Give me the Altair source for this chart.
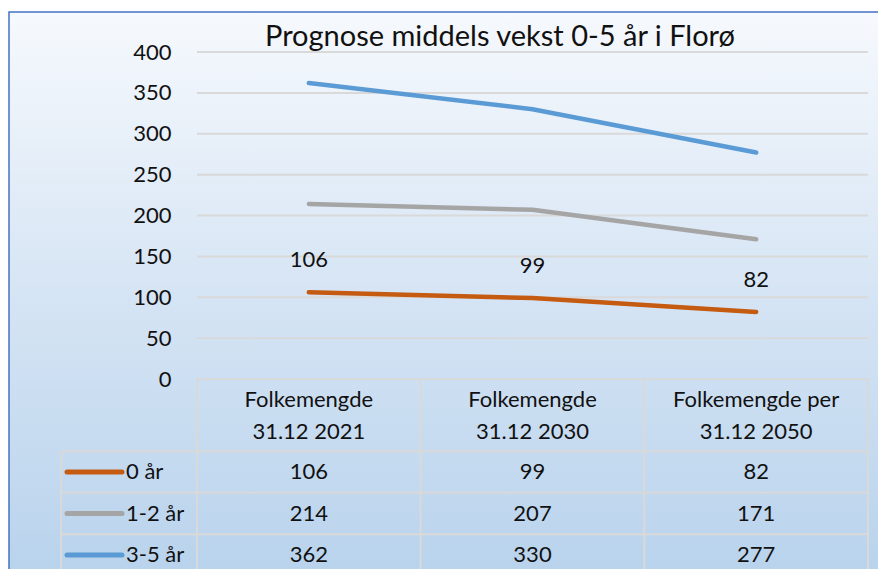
import altair as alt
import pandas as pd

# ---------------- data ----------------
categories = ["Folkemengde 31.12 2021", "Folkemengde 31.12 2030", "Folkemengde per 31.12 2050"]
header_labels = ["Folkemengde\n31.12 2021", "Folkemengde\n31.12 2030", "Folkemengde per\n31.12 2050"]
series_names = ["0 år", "1-2 år", "3-5 år"]
values_0 = [106, 99, 82]
values_1_2 = [214, 207, 171]
values_3_5 = [362, 330, 277]
series_colors = ["#c55a11", "#a5a5a5", "#5b9bd5"]
y_ticks = [0, 50, 100, 150, 200, 250, 300, 350, 400]
chart_title = "Prognose middels vekst 0-5 år i Florø"

rows = []
for s, vals in zip(series_names, [values_0, values_1_2, values_3_5]):
    for c, v in zip(categories, vals):
        rows.append({"cat": c, "series": s, "value": v})
df = pd.DataFrame(rows)
df_head = pd.DataFrame({"cat": categories, "label": header_labels})
df_series = pd.DataFrame({"series": series_names})
df_ticks = pd.DataFrame({"value": y_ticks})
df_title = pd.DataFrame({"t": [chart_title]})

# ---------------- layout ----------------
W, H = 671, 327
PAD_L, PAD_T, PAD_R, PAD_B = 189, 44, 10, 190
ROW_TOP, ROW_BOTTOM = 420, 503      # centres of first and last table rows
ROW_STEP = (ROW_BOTTOM - ROW_TOP) / 2
HEAD_Y = 348
KEY_X0, KEY_X1, KEY_TXT = -130, -75, -71
TABLE_LEFT = -136
FONT = "Lato"
TXT = "#111111"
GRID = "#d9d9d9"

x_enc = alt.X("cat:N", sort=categories,
              scale=alt.Scale(type="point", padding=0.5, domain=categories), axis=None)
y_scale = alt.Scale(domain=[0, 400], nice=False, zero=True)
y_val = alt.Y("value:Q", scale=y_scale,
              axis=alt.Axis(values=y_ticks, title=None, zindex=1, grid=False))
y_val_noaxis = alt.Y("value:Q", scale=y_scale, axis=None)
row_scale = alt.Scale(type="point", domain=series_names, range=[ROW_TOP, ROW_BOTTOM], padding=0)
y_row = alt.Y("series:N", scale=row_scale, axis=None)
color_enc = alt.Color("series:N", scale=alt.Scale(domain=series_names, range=series_colors), legend=None)

one = pd.DataFrame({"a": [1]})

# background gradient
bg = alt.Chart(one).mark_rect(
    fill=alt.LinearGradient(
        gradient="linear", x1=0, x2=0, y1=0, y2=1,
        stops=[alt.GradientStop(offset=0, color="#f6f9fd"),
               alt.GradientStop(offset=0.5, color="#d5e4f4"),
               alt.GradientStop(offset=1, color="#b7d2ec")]),
    stroke="#4472c4", strokeWidth=1.5,
).encode(x=alt.value(-PAD_L + 1), x2=alt.value(W + PAD_R + 20),
         y=alt.value(-40), y2=alt.value(H + PAD_B + 20))

title = alt.Chart(df_title).mark_text(
    font=FONT, fontSize=29, color=TXT, align="left", baseline="alphabetic"
).encode(x=alt.value(68), y=alt.value(-6), text="t:N")

# horizontal gridlines, drawn beneath the lines
grid = alt.Chart(df_ticks).mark_rule(color=GRID, strokeWidth=2).encode(
    y=y_val_noaxis, x=alt.value(0), x2=alt.value(W))

lines = alt.Chart(df).mark_line(strokeWidth=4.5, strokeCap="round", strokeJoin="round").encode(
    x=x_enc, y=y_val, color=color_enc, detail="series:N")

labels = alt.Chart(df).transform_filter(alt.datum.series == series_names[0]).mark_text(
    font=FONT, fontSize=22, color=TXT, dy=-32, baseline="middle"
).encode(x=x_enc, y=y_val_noaxis, text="value:Q")

# table grid lines (decoration)
hlines = []
for i in range(4):
    yy = ROW_TOP - ROW_STEP / 2 + i * ROW_STEP
    hlines.append(alt.Chart(one).mark_rule(color=GRID, strokeWidth=2).encode(
        x=alt.value(TABLE_LEFT), x2=alt.value(W), y=alt.value(yy)))
vlines = [alt.Chart(one).mark_rule(color=GRID, strokeWidth=2).encode(
    x=alt.value(TABLE_LEFT), y=alt.value(ROW_TOP - ROW_STEP / 2), y2=alt.value(H + PAD_B + 10))]
for i in range(4):
    xx = W * i / 3
    vlines.append(alt.Chart(one).mark_rule(color=GRID, strokeWidth=2).encode(
        x=alt.value(xx), y=alt.value(H), y2=alt.value(H + PAD_B + 10)))

header = alt.Chart(df_head).mark_text(
    font=FONT, fontSize=22, color=TXT, lineBreak="\n", lineHeight=32, baseline="middle"
).encode(x=x_enc, y=alt.value(HEAD_Y), text="label:N")

cells = alt.Chart(df).mark_text(font=FONT, fontSize=22, color=TXT, baseline="middle").encode(
    x=x_enc, y=y_row, text="value:Q")

keys = alt.Chart(df_series).mark_rule(strokeWidth=5, strokeCap="round").encode(
    x=alt.value(KEY_X0), x2=alt.value(KEY_X1), y=y_row, color=color_enc)

key_text = alt.Chart(df_series).mark_text(
    font=FONT, fontSize=22, color=TXT, align="left", baseline="middle"
).encode(x=alt.value(KEY_TXT), y=y_row, text="series:N")

chart = alt.layer(bg, title, grid, *hlines, *vlines, lines, labels, header, cells, keys, key_text
).resolve_scale(
    y="independent"
).properties(
    width=W, height=H,
    autosize=alt.AutoSizeParams(type="none"),
    padding={"left": PAD_L, "top": PAD_T, "right": PAD_R, "bottom": PAD_B},
    background="white",
).configure_view(stroke=None).configure_axis(
    labelFont=FONT, labelFontSize=22, labelColor=TXT, labelPadding=26,
    domain=False, ticks=False,
)

chart.save("out.html", embed_options={"renderer": "svg", "actions": False})
